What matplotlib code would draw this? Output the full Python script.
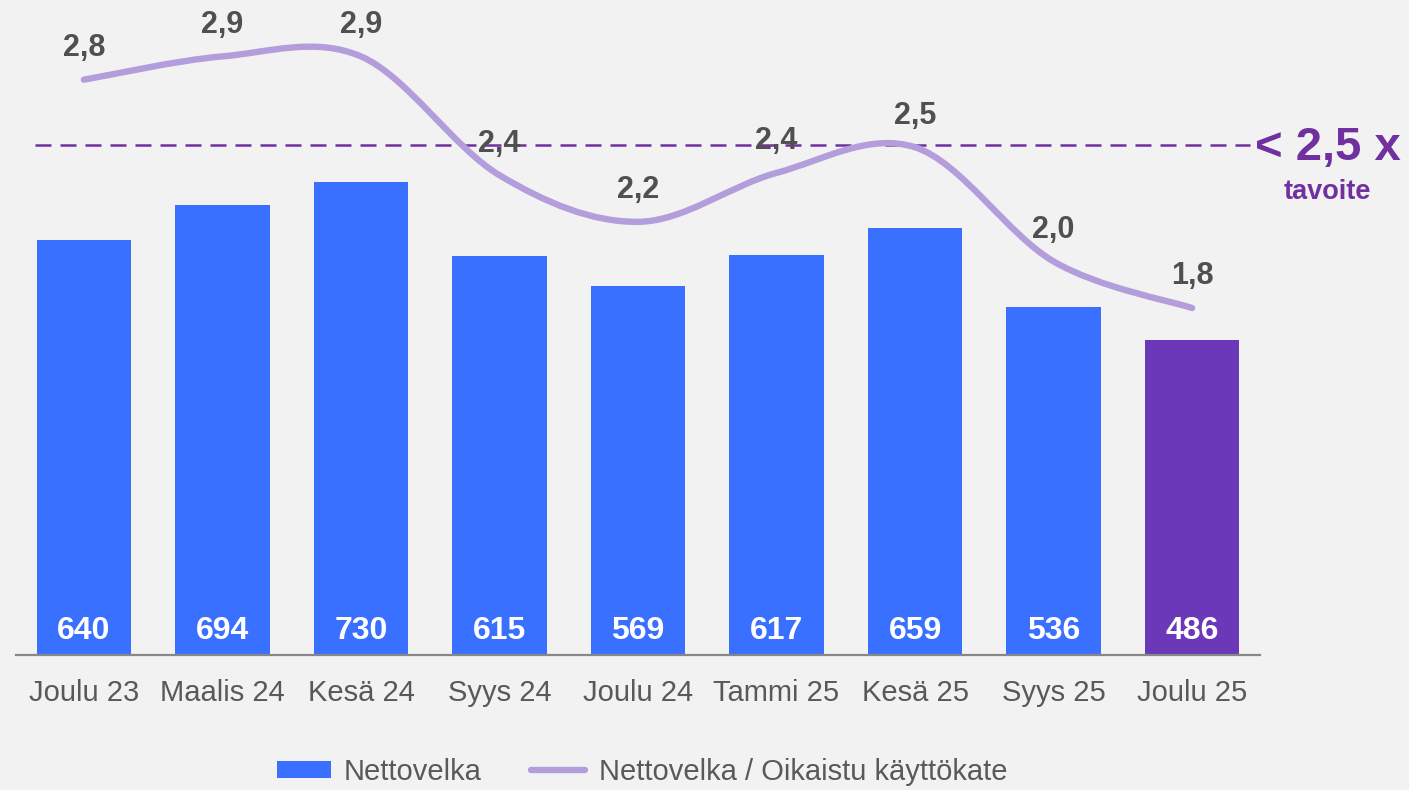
#! /usr/bin/env python
# -*- coding: utf-8 -*-
import numpy as np
import matplotlib
matplotlib.use('Agg')
import matplotlib.pyplot as plt
from matplotlib.path import Path
from matplotlib.patches import PathPatch, Patch
from matplotlib.lines import Line2D

# data
kaudet = ['Joulu 23', 'Maalis 24', 'Kesä 24', 'Syys 24', 'Joulu 24',
          'Tammi 25', 'Kesä 25', 'Syys 25', 'Joulu 25']
nettovelka = [640, 694, 730, 615, 569, 617, 659, 536, 486]
suhde = [2.78, 2.88, 2.88, 2.37, 2.17, 2.38, 2.49, 2.00, 1.80]
suhde_txt = ['2,8', '2,9', '2,9', '2,4', '2,2', '2,4', '2,5', '2,0', '1,8']
tavoite = 2.5

plt.rcParams['font.family'] = ['Liberation Sans', 'DejaVu Sans']

BG = '#F2F2F2'
SININEN = '#3A70FF'
VIOLETTI = '#6A38B8'
LAVENTELI = '#B39DDB'
TUMMA_VIOLETTI = '#7030A0'
HARMAA = '#595959'

W, H = 1409, 790
fig = plt.figure(figsize=(W / 100, H / 100), dpi=100, facecolor=BG)
ax = fig.add_axes([16 / W, (H - 655) / H, 1244 / W, 655 / H])
ax.set_facecolor(BG)

x = np.arange(len(kaudet))
varit = [SININEN] * (len(kaudet) - 1) + [VIOLETTI]
ax.bar(x, nettovelka, width=0.68, color=varit, zorder=2)
for i, v in enumerate(nettovelka):
    ax.annotate(str(v), xy=(i, 0), xytext=(0, 17.5), textcoords='offset points',
                ha='center', va='center', color='white', fontsize=23,
                fontweight='bold', zorder=5)

ax.set_xlim(-0.49, len(kaudet) - 1 + 0.49)
ax.set_ylim(0, 1010)
ax.set_xticks(x)
ax.set_xticklabels(kaudet, fontsize=21, color=HARMAA)
ax.tick_params(axis='x', length=0, pad=17)
ax.set_yticks([])
for s in ['top', 'left', 'right']:
    ax.spines[s].set_visible(False)
ax.spines['bottom'].set_color('#878787')
ax.spines['bottom'].set_linewidth(1.6)

# toinen akseli suhdeluvulle
ax2 = ax.twinx()
ax2.set_ylim(0.311, 3.122)
ax2.set_yticks([])
for s in ['top', 'left', 'right', 'bottom']:
    ax2.spines[s].set_visible(False)

ax2.axhline(tavoite, xmin=19 / 1244, xmax=1234 / 1244, color=TUMMA_VIOLETTI,
            lw=1.8, linestyle=(0, (6.4, 3.6)), zorder=1)

# pehmennetty viiva (bezier kuten Excelissa)
P = np.column_stack([x, suhde]).astype(float)
n = len(P)
verts = [tuple(P[0])]
codes = [Path.MOVETO]
for i in range(n - 1):
    p0 = P[max(i - 1, 0)]
    p3 = P[min(i + 2, n - 1)]
    c1 = P[i] + (P[i + 1] - p0) / 6.0
    c2 = P[i + 1] - (p3 - P[i]) / 6.0
    verts += [tuple(c1), tuple(c2), tuple(P[i + 1])]
    codes += [Path.CURVE4] * 3
patch = PathPatch(Path(verts, codes), fill=False, edgecolor=LAVENTELI, lw=4.6,
                  capstyle='round', joinstyle='round', zorder=3)
ax2.add_patch(patch)

for i, t in enumerate(suhde_txt):
    ax2.annotate(t, xy=(i, suhde[i]), xytext=(0, 22.8), textcoords='offset points',
                 ha='center', va='center', color='#505050', fontsize=22,
                 fontweight='bold', zorder=5)

fig.text(1255 / W, 1 - 148 / H, '< 2,5 x', ha='left', va='center',
         fontsize=34, fontweight='bold', color=TUMMA_VIOLETTI)
fig.text(1327 / W, 1 - 192 / H, 'tavoite', ha='center', va='center',
         fontsize=19.5, fontweight='bold', color=TUMMA_VIOLETTI)

kahvat = [Patch(facecolor=SININEN, edgecolor='none'),
          Line2D([0], [0], color=LAVENTELI, lw=4.6, solid_capstyle='round')]
leg = fig.legend(kahvat, ['Nettovelka', 'Nettovelka / Oikaistu käyttökate'],
                 loc='center', bbox_to_anchor=(642 / W, 1 - 772 / H), ncol=2,
                 frameon=False, fontsize=21, handlelength=1.85,
                 handleheight=0.55, handletextpad=0.45, columnspacing=1.7,
                 borderpad=0)
for t in leg.get_texts():
    t.set_color(HARMAA)

fig.savefig('out.png', dpi=100, facecolor=BG)
